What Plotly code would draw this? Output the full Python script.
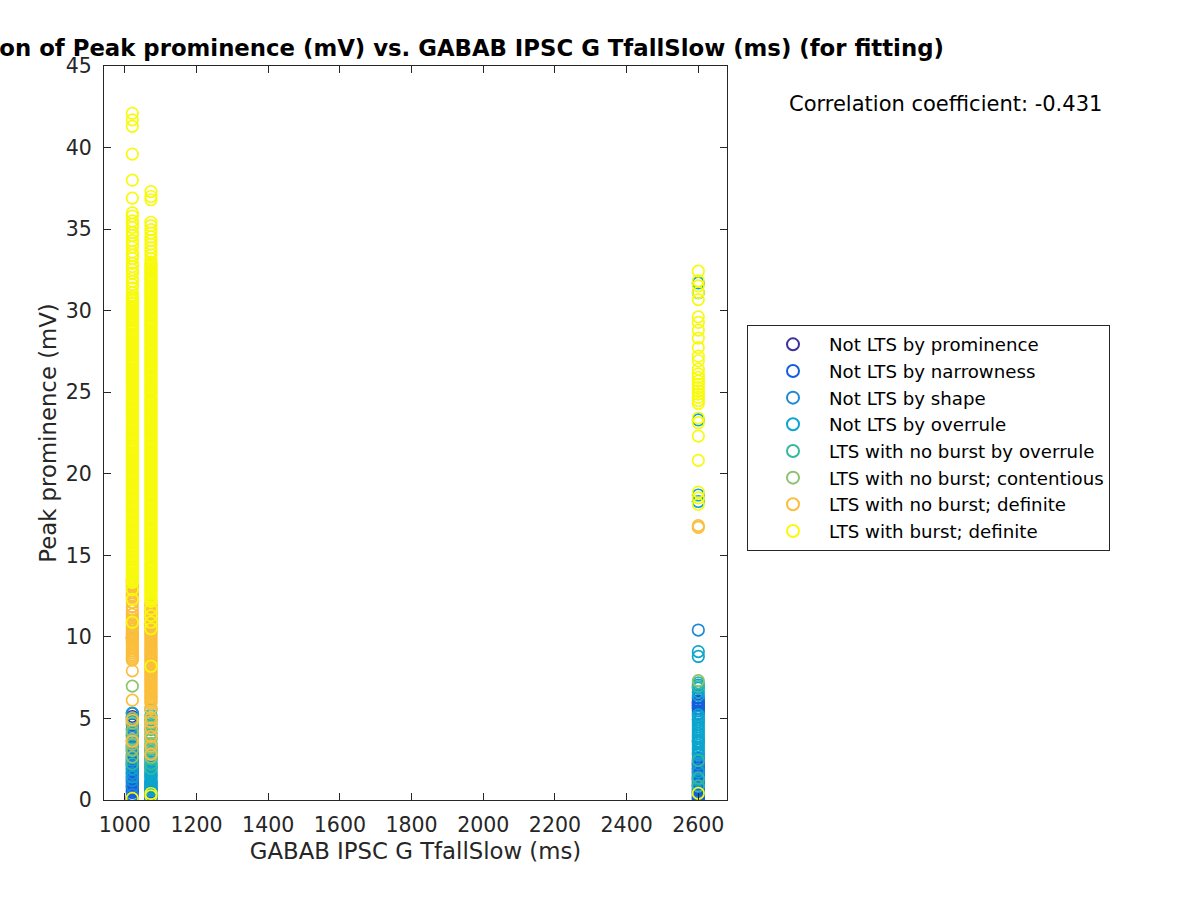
import plotly.graph_objects as go

# ---------------- data ----------------
x_columns = [1021, 1073, 2600]   # GABAB IPSC G TfallSlow (ms) values present

class_names = [
    "Not LTS by prominence",
    "Not LTS by narrowness",
    "Not LTS by shape",
    "Not LTS by overrule",
    "LTS with no burst by overrule",
    "LTS with no burst; contentious",
    "LTS with no burst; definite",
    "LTS with burst; definite",
]
class_colors = ["#3E2E9E", "#145FDC", "#1E88D8", "#0BA5CD",
                "#34B89E", "#8CC36E", "#FBBE3C", "#F8FA0D"]

# Peak prominence (mV) per class, per x column
prom_1021 = [5.31, 5.12, 4.93, 4.62, 0.21, 0.15, 0.09, 0.04]
prom_1073 = [0.18]
prom_2600 = [5.98, 5.81, 5.63]

narrow_1021 = [0.46, 0.53, 0.62, 0.71, 0.79, 0.88, 0.96, 1.05, 1.13, 1.22,
               1.31, 1.39, 1.48, 1.56, 1.65, 1.73, 1.82, 1.91, 1.99, 2.08,
               2.16, 2.25, 2.34, 2.42, 2.51, 2.60, 2.72, 2.85, 3.01, 3.18,
               3.36, 3.62, 3.95, 4.31]
narrow_1073 = [0.03, 0.14, 0.26, 0.37, 0.49, 0.61, 0.74, 0.88, 1.02]
narrow_2600 = [0.01, 0.10, 0.18, 0.27, 0.35, 0.44, 0.52, 0.61, 0.70, 0.78,
               0.87, 0.95, 1.04, 1.12, 1.21, 1.30, 1.38, 1.47, 1.55, 1.64,
               1.72, 1.81, 1.90, 1.98, 2.07, 2.15, 2.24, 2.33, 2.45, 2.58,
               5.31, 5.47, 5.62, 5.78, 5.93, 6.08, 6.24]

shape_1021 = [0.31, 0.82, 1.19, 1.63, 2.11, 2.72, 3.28, 3.84, 4.33, 5.04, 9.92]
shape_1073 = [0.22, 0.63, 1.12, 1.52, 2.03, 2.61, 3.12]
shape_2600 = [10.42, 4.92, 3.61, 2.83, 2.21, 1.88, 1.41, 0.92, 0.48]

over_1021 = [1.42, 1.91, 2.44, 3.02, 3.58, 4.13, 4.81, 5.32]
over_1073 = [0.58, 0.72, 0.85, 0.97, 1.09, 1.22, 1.34, 1.47, 1.59, 1.71,
             1.84, 1.96, 2.09, 2.21, 2.34, 2.47, 2.61, 2.93, 3.31, 3.82,
             4.36, 4.91]
over_2600 = [31.7, 31.1, 23.3, 18.7, 18.3, 9.1, 8.8, 7.05, 6.85, 6.62,
             6.41, 5.22, 5.08, 4.93, 4.79, 4.64, 4.50, 4.36, 4.21, 4.07,
             3.92, 3.78, 3.63, 3.49, 3.34, 3.20, 3.06, 2.91, 2.77, 1.72, 1.21]

teal_1021 = [4.02, 3.12, 2.21]
teal_1073 = [5.52, 5.21, 4.93, 4.62, 4.33, 4.02, 3.71, 3.42, 3.13, 2.84,
             2.52, 2.21, 1.93]
teal_2600 = [7.18, 6.95, 2.42, 1.33, 0.85]

green_1021 = [6.98, 5.02, 4.71, 4.23, 3.72, 3.41, 3.04, 2.63]
green_1073 = [5.63, 5.12, 4.74, 4.41, 4.09, 3.78, 3.47, 3.18, 2.89, 2.62]
green_2600 = [7.32]

orange_1021 = [13.52, 13.41, 13.29, 13.17, 13.06, 12.93, 12.81, 12.69, 12.56, 12.44,
               12.33, 12.12, 11.86, 11.61, 11.38, 11.19, 11.05, 10.93, 10.81, 10.69,
               10.58, 10.46, 10.34, 10.21, 10.10, 9.98, 9.86, 9.74, 9.62, 9.51,
               9.39, 9.27, 9.15, 9.03, 8.91, 8.80, 8.68, 8.58, 7.92, 6.12, 4.90, 3.60]
orange_1073 = [12.18, 12.02, 11.91, 11.79, 11.70, 11.58, 11.49, 11.37, 11.28, 11.16,
               11.07, 10.95, 10.86, 10.74, 10.65, 10.53, 10.44, 10.32, 10.23, 10.11,
               10.02, 9.90, 9.81, 9.69, 9.60, 9.48, 9.39, 9.27, 9.18, 9.06,
               8.97, 8.85, 8.76, 8.64, 8.55, 8.43, 8.34, 8.22, 8.13, 8.01,
               7.92, 7.80, 7.71, 7.59, 7.50, 7.38, 7.29, 7.17, 7.08, 6.96,
               6.87, 6.75, 6.66, 6.54, 6.45, 6.33, 6.24, 6.12, 6.03, 5.91,
               5.60, 5.00, 4.80, 4.40, 3.90, 3.30, 2.80]
orange_2600 = [16.82, 16.71]

burst_1021 = [42.1, 41.7, 41.3, 39.6, 38.0, 36.9,
              36.0, 35.8, 35.5, 35.3, 35.1, 34.8, 34.6, 34.3, 34.1, 33.9,
              33.6, 33.4, 33.2, 32.9, 32.7, 32.5, 32.3, 32.0, 31.8, 31.6,
              31.4, 31.1, 30.9,
              30.82, 30.71, 30.62, 30.49, 30.41, 30.28, 30.19, 30.07, 29.98, 29.86,
              29.77, 29.64, 29.55, 29.43, 29.36, 29.22, 29.13, 29.01, 28.92, 28.79,
              28.71, 28.58, 28.49, 28.37, 28.28, 28.15, 28.06, 27.94, 27.85, 27.73,
              27.62, 27.51, 27.43, 27.30, 27.21, 27.08, 26.99, 26.87, 26.78, 26.66,
              26.55, 26.44, 26.36, 26.23, 26.14, 26.02, 25.93, 25.81, 25.72, 25.60,
              25.49, 25.38, 25.29, 25.17, 25.08, 24.96, 24.87, 24.75, 24.66, 24.53,
              24.44, 24.32, 24.24, 24.11, 24.02, 23.90, 23.81, 23.69, 23.60, 23.47,
              23.38, 23.27, 23.18, 23.05, 22.96, 22.84, 22.75, 22.63, 22.54, 22.41,
              22.33, 22.21, 22.12, 21.99, 21.90, 21.78, 21.69, 21.57, 21.48, 21.35,
              21.27, 21.15, 21.06, 20.93, 20.84, 20.72, 20.63, 20.51, 20.42, 20.29,
              20.21, 20.09, 20.00, 19.87, 19.78, 19.66, 19.57, 19.45, 19.36, 19.23,
              19.15, 19.03, 18.94, 18.81, 18.72, 18.60, 18.51, 18.39, 18.30, 18.17,
              18.09, 17.97, 17.88, 17.75, 17.66, 17.54, 17.45, 17.33, 17.24, 17.11,
              17.03, 16.91, 16.82, 16.69, 16.60, 16.48, 16.39, 16.27, 16.18, 16.05,
              15.97, 15.85, 15.76, 15.63, 15.54, 15.42, 15.33, 15.21, 15.12, 14.99,
              14.91, 14.79, 14.70, 14.57, 14.48, 14.36, 14.27, 14.15, 14.06, 13.93,
              13.85, 13.73, 13.64, 13.51, 13.42, 13.33,
              12.90, 12.30, 10.90, 0.10]
burst_1073 = [37.3, 37.0, 36.8,
              35.42, 35.21, 34.97, 34.76, 34.52, 34.31, 34.08, 33.85, 33.63, 33.41, 33.19,
              32.98, 32.87, 32.78, 32.66, 32.57, 32.44, 32.36, 32.23, 32.14, 32.02,
              31.93, 31.81, 31.72, 31.59, 31.51, 31.38, 31.29, 31.17, 31.08, 30.95,
              30.87, 30.75, 30.66, 30.53, 30.44, 30.32, 30.23, 30.11, 30.02, 29.89,
              29.81, 29.69, 29.60, 29.47, 29.38, 29.26, 29.17, 29.05, 28.96, 28.83,
              28.75, 28.63, 28.54, 28.41, 28.32, 28.20, 28.11, 27.99, 27.90, 27.77,
              27.69, 27.57, 27.48, 27.35, 27.26, 27.14, 27.05, 26.93, 26.84, 26.71,
              26.63, 26.51, 26.42, 26.29, 26.20, 26.08, 25.99, 25.87, 25.78, 25.65,
              25.57, 25.45, 25.36, 25.23, 25.14, 25.02, 24.93, 24.81, 24.72, 24.59,
              24.51, 24.39, 24.30, 24.17, 24.08, 23.96, 23.87, 23.75, 23.66, 23.53,
              23.45, 23.33, 23.24, 23.11, 23.02, 22.90, 22.81, 22.69, 22.60, 22.47,
              22.39, 22.27, 22.18, 22.05, 21.96, 21.84, 21.75, 21.63, 21.54, 21.41,
              21.33, 21.21, 21.12, 20.99, 20.90, 20.78, 20.69, 20.57, 20.48, 20.35,
              20.27, 20.15, 20.06, 19.93, 19.84, 19.72, 19.63, 19.51, 19.42, 19.29,
              19.21, 19.09, 19.00, 18.87, 18.78, 18.66, 18.57, 18.45, 18.36, 18.23,
              18.15, 18.03, 17.94, 17.81, 17.72, 17.60, 17.51, 17.39, 17.30, 17.17,
              17.09, 16.97, 16.88, 16.75, 16.66, 16.54, 16.45, 16.33, 16.24, 16.11,
              16.03, 15.91, 15.82, 15.69, 15.60, 15.48, 15.39, 15.27, 15.18, 15.05,
              14.97, 14.85, 14.76, 14.63, 14.54, 14.42, 14.33, 14.21, 14.12, 13.99,
              13.91, 13.79, 13.70, 13.57, 13.48, 13.36, 13.27, 13.15, 13.06, 12.93,
              12.85, 12.73, 12.64, 12.51, 12.42, 12.30, 12.18,
              11.70, 11.30, 10.90, 10.50, 8.20, 0.40, 0.25]
burst_2600 = [32.42, 31.83, 31.52, 31.11, 30.68, 29.62, 29.28, 28.81, 28.32, 27.73,
              27.21, 26.93, 26.42, 26.12, 25.91, 25.68, 25.49, 25.28, 25.08, 24.88,
              24.68, 24.49, 24.31, 23.42, 23.13, 22.31, 20.82, 18.88, 18.52, 18.12, 0.41]

class_values = [
    (prom_1021, prom_1073, prom_2600),
    (narrow_1021, narrow_1073, narrow_2600),
    (shape_1021, shape_1073, shape_2600),
    (over_1021, over_1073, over_2600),
    (teal_1021, teal_1073, teal_2600),
    (green_1021, green_1073, green_2600),
    (orange_1021, orange_1073, orange_2600),
    (burst_1021, burst_1073, burst_2600),
]

x_ticks = [1000, 1200, 1400, 1600, 1800, 2000, 2200, 2400, 2600]
y_ticks = [0, 5, 10, 15, 20, 25, 30, 35, 40, 45]
corr_text = "Correlation coefficient: -0.431"

# ---------------- figure ----------------
FONT = "DejaVu Sans"
AX = "#262626"

fig = go.Figure()
for name, color, cols in zip(class_names, class_colors, class_values):
    xs, ys = [], []
    for xv, yl in zip(x_columns, cols):
        xs += [xv] * len(yl)
        ys += list(yl)
    fig.add_trace(go.Scatter(
        x=xs, y=ys, mode="markers", name=name,
        marker=dict(symbol="circle-open", size=11.5, color=color,
                    line=dict(width=1.7, color=color)),
    ))

L, R, T, B = 104, 727, 66, 800
W, H = 1200, 900
pw, ph = R - L, B - T

fig.update_layout(
    width=W, height=H,
    margin=dict(l=L, r=W - R, t=T, b=H - B, autoexpand=False),
    paper_bgcolor="white", plot_bgcolor="white",
    font=dict(family=FONT, color=AX, size=20),
    title=dict(
        text="<b>Correlation of Peak prominence (mV) vs. GABAB IPSC G TfallSlow (ms) (for fitting)</b>",
        font=dict(family=FONT, size=22.8, color="black"),
        xref="paper", x=0.5, xanchor="center",
        yref="container", y=1 - 48 / H, yanchor="middle",
    ),
    showlegend=True,
    legend=dict(
        x=(747 - L) / pw, y=(B - 325) / ph, xanchor="left", yanchor="top",
        xref="paper", yref="paper",
        bgcolor="white", bordercolor=AX, borderwidth=1,
        font=dict(family=FONT, size=18.2, color="black"),
        itemsizing="constant", indentation=9, itemwidth=62, tracegroupgap=0,
    ),
    annotations=[dict(
        text=corr_text, xref="paper", yref="paper",
        x=(945 - L) / pw, y=(B - 104) / ph, xanchor="center", yanchor="middle",
        showarrow=False, font=dict(family=FONT, size=21, color="black"),
    )],
)

fig.update_xaxes(
    range=[942, 2680], tickvals=x_ticks, ticktext=[str(v) for v in x_ticks],
    ticks="inside", ticklen=7, tickwidth=1, tickcolor=AX,
    showline=True, linecolor=AX, linewidth=1, mirror="allticks",
    showgrid=False, zeroline=False,
    tickfont=dict(family=FONT, size=20.5, color=AX),
    title=dict(text="GABAB IPSC G TfallSlow (ms)",
               font=dict(family=FONT, size=22.8, color=AX), standoff=7),
    ticklabelstandoff=6,
)
fig.update_yaxes(
    range=[0, 45], tickvals=y_ticks, ticktext=[str(v) for v in y_ticks],
    ticks="inside", ticklen=7, tickwidth=1, tickcolor=AX,
    showline=True, linecolor=AX, linewidth=1, mirror="allticks",
    showgrid=False, zeroline=False,
    tickfont=dict(family=FONT, size=20.5, color=AX),
    title=dict(text="Peak prominence (mV)",
               font=dict(family=FONT, size=22.8, color=AX), standoff=2),
    ticklabelstandoff=7,
)

fig.write_html("out.html")
